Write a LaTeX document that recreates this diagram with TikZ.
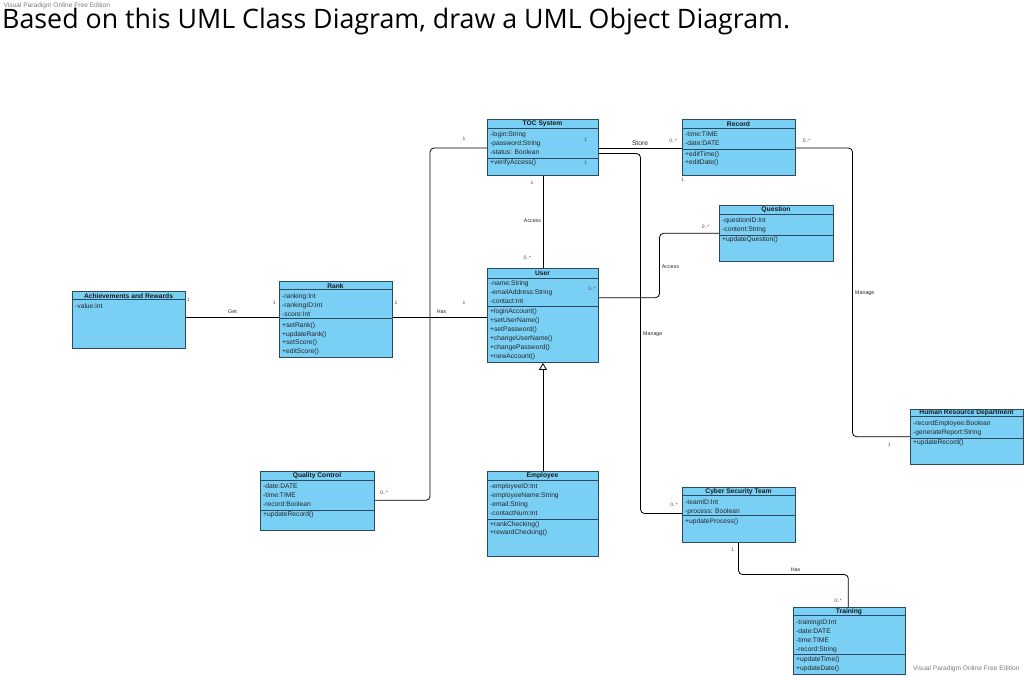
\documentclass[tikz,border=0pt]{standalone}
\usepackage{fontspec}
\setmainfont{Liberation Sans}
\newfontfamily\titlefont{Open Sans}
\usetikzlibrary{arrows.meta}
\definecolor{clsfill}{RGB}{122,207,245}
\definecolor{clsdraw}{RGB}{45,75,95}
\definecolor{wmark}{RGB}{125,125,125}
\tikzset{
  cls/.style={draw=clsdraw, fill=clsfill, line width=0.9pt, inner sep=0pt},
  sepl/.style={draw=clsdraw, line width=0.8pt},
  ttl/.style={font=\fontsize{6.7}{7}\selectfont\bfseries, inner sep=0pt, text=black!90},
  txt/.style={font=\fontsize{6.7}{7}\selectfont, inner sep=0pt, anchor=west, text height=4.9pt, text depth=1.4pt, text=black!85},
  mult/.style={font=\fontsize{5}{6}\selectfont, inner sep=0pt, text=black!70},
  role/.style={font=\fontsize{5.3}{6}\selectfont, inner sep=0pt, text=black!85},
  rolebig/.style={font=\fontsize{6.7}{7}\selectfont, inner sep=0pt, text=black!85},
  conn/.style={draw=black, line width=0.8pt, rounded corners=4pt},
  wmk/.style={font=\fontsize{6.6}{7}\selectfont, inner sep=0pt, text=wmark},
}
% #1 id, #2 left, #3 top, #4 right, #5 header bottom, #6 bottom, #7 title
\newcommand\umlcls[7]{%
  \node[cls, anchor=north west, minimum width={#4-#2}, minimum height={#6-#3}] (#1) at (#2,#3) {};
  \draw[sepl] (#2,#5) -- (#4,#5);
  \node[ttl] (#1-t) at ({(#2+#4)/2},{(#3+#5)/2+0.5}) {#7};
}
% #1 id, #2 left, #3 right, #4 y
\newcommand\umlsep[4]{\draw[sepl] (#2,#4) -- (#3,#4);}
% #1 prefix, #2 x, #3 first y, #4 dy, #5 list
\newcommand\umllines[5]{%
  \foreach \t [count=\i] in {#5} {\node[txt] (#1-\i) at (#2,{#3+0.6+(\i-1)*#4}) {\t};}%
}
\begin{document}
\begin{tikzpicture}[x=1pt,y=-1pt]
\useasboundingbox[fill=white] (0,0) rectangle (1024,675);

% watermarks and title
\node[wmk, anchor=west] (wm1) at (3.5,5.5) {Visual Paradigm Online Free Edition};
\node[wmk, anchor=west] (wm2) at (913,669) {Visual Paradigm Online Free Edition};
\node[inner sep=0pt, anchor=base west] (title) at (2,28.7)
  {\resizebox{788pt}{!}{\titlefont\fontsize{21.5}{24}\selectfont Based on this UML Class Diagram, draw a UML Object Diagram.}};

% ---------- classes ----------
\umlcls{toc}{487}{119}{598}{128}{175}{TOC System}
\umlcls{rec}{682}{119}{795}{128}{175}{Record}
\umlcls{que}{719}{205}{833}{214}{261}{Question}
\umlcls{usr}{487}{268}{598}{278}{362}{User}
\umlcls{ach}{72}{291}{185}{299.5}{348}{Achievements and Rewards}
\umlcls{rnk}{279}{281}{392}{289.5}{357}{Rank}
\umlcls{qc}{260}{471}{374}{480}{530}{Quality Control}
\umlcls{emp}{487}{471}{598}{480}{556}{Employee}
\umlcls{cst}{682}{487}{795}{495}{542}{Cyber Security Team}
\umlcls{trn}{793}{607}{905}{615}{674}{Training}
\umlcls{hrd}{910}{409}{1023}{416.5}{464}{Human Resource Department}

\umlsep{toc}{487}{598}{158}
\umlsep{rec}{682}{795}{149}
\umlsep{que}{719}{833}{235}
\umlsep{usr}{487}{598}{306}
\umlsep{rnk}{279}{392}{318.7}
\umlsep{qc}{260}{374}{510}
\umlsep{emp}{487}{598}{519.7}
\umlsep{cst}{682}{795}{515}
\umlsep{trn}{793}{905}{654}
\umlsep{hrd}{910}{1023}{438}

\umllines{toca}{490}{134.3}{9}{-login:String,-password:String,-status: Boolean}
\umllines{toco}{490}{162.5}{9}{+verifyAccess()}
\umllines{reca}{685}{134.3}{9}{-time:TIME,-date:DATE}
\umllines{reco}{685}{153.8}{8.6}{+editTime(),+editDate()}
\umllines{quea}{722}{220.3}{9}{-questionID:Int,-content:String}
\umllines{queo}{722}{239.5}{9}{+updateQuestion()}
\umllines{usra}{490}{283.5}{8.8}{-name:String,-emailAddress:String,-contact:Int}
\umllines{usro}{490}{311.5}{8.85}{+loginAccount(),+setUserName(),+setPassword(),+changeUserName(),+changePassword(),+newAccount()}
\umllines{acha}{75}{305.7}{9}{-value:int}
\umllines{rnka}{282}{296.5}{8.7}{-ranking:Int,-rankingID:Int,-score:Int}
\umllines{rnko}{282}{325}{8.7}{+setRank(),+updateRank(),+setScore(),+editScore()}
\umllines{qca}{263}{486}{9}{-date:DATE,-time:TIME,-record:Boolean}
\umllines{qco}{263}{514.3}{9}{+updateRecord()}
\umllines{empa}{490}{486}{9}{-employeeID:Int,-employeeName:String,-email:String,-contactNum:Int}
\umllines{empo}{490}{523.8}{8.8}{+rankChecking(),+rewardChecking()}
\umllines{csta}{685}{501.7}{9}{-teamID:Int,-process: Boolean}
\umllines{csto}{685}{521}{9}{+updateProcess()}
\umllines{trna}{796}{622.3}{8.8}{-trainingID:Int,-date:DATE,-time:TIME,-record:String}
\umllines{trno}{796}{659}{8.7}{+updateTime(),+updateDate()}
\umllines{hrda}{913}{423}{9}{-recordEmployee:Boolean,-generateReport:String}
\umllines{hrdo}{913}{442}{9}{+updateRecord()}

% ---------- connectors ----------
\draw[conn] (toc.west |- 0,148) -- (430,148) -- (430,500.3) -- (qc.east |- 0,500.3);
\draw[conn] (toc.east |- 0,148) -- (rec.west |- 0,148);
\draw[conn] (toc.east |- 0,153.5) -- (640.5,153.5) -- (640.5,513.5) -- (cst.west |- 0,513.5);
\draw[conn] (toc.south) -- (usr.north);
\draw[conn] (usr.east |- 0,297.7) -- (659.5,297.7) -- (659.5,233.3) -- (que.west |- 0,233.3);
\draw[conn] (rnk.east |- 0,317.7) -- (usr.west |- 0,317.7);
\draw[conn] (ach.east |- 0,317.7) -- (rnk.west |- 0,317.7);
\draw[conn, -{Triangle[open, length=7pt, width=8pt, line width=0.8pt]}] (emp.north) -- (usr.south);
\draw[conn] (rec.east |- 0,148) -- (852.5,148) -- (852.5,436.7) -- (hrd.west |- 0,436.7);
\draw[conn] (cst.south -| 738.5,0) -- (738.5,574.5) -- (848.3,574.5) -- (trn.north -| 848.3,0);

% ---------- labels ----------
\node[mult] (l1) at (464,139) {1};
\node[mult] (l2) at (384,493) {0..*};
\node[rolebig] (l3) at (640,143.5) {Store};
\node[mult] (l4) at (673,141) {0..*};
\node[mult] (l5) at (585.7,139.3) {1};
\node[mult] (l6) at (585.7,162.3) {1};
\node[mult] (l7) at (682.7,180) {1};
\node[mult] (l8) at (806.5,140.7) {0..*};
\node[mult] (l9) at (674,504.3) {0..*};
\node[role, anchor=west] (l10) at (643,334.3) {Manage};
\node[mult] (l11) at (532,182.3) {1};
\node[role] (l12) at (532.5,221) {Access};
\node[mult] (l13) at (527.3,257.3) {0..*};
\node[mult] (l14) at (592,289) {0..*};
\node[mult] (l15) at (705.5,226.7) {0..*};
\node[role, anchor=west] (l16) at (661.7,266.7) {Access};
\node[role] (l17) at (232.5,311.3) {Get};
\node[mult] (l18) at (188.3,299.3) {1};
\node[mult] (l19) at (274.3,303) {1};
\node[mult] (l20) at (396,303) {1};
\node[mult] (l21) at (464,303) {1};
\node[role] (l22) at (441.5,312) {Has};
\node[role, anchor=west] (l23) at (855,293) {Manage};
\node[mult] (l24) at (889.3,445) {1};
\node[mult] (l25) at (732.7,550) {1};
\node[role] (l26) at (795.5,570) {Has};
\node[mult] (l27) at (838,601) {0..*};
\end{tikzpicture}
\end{document}
